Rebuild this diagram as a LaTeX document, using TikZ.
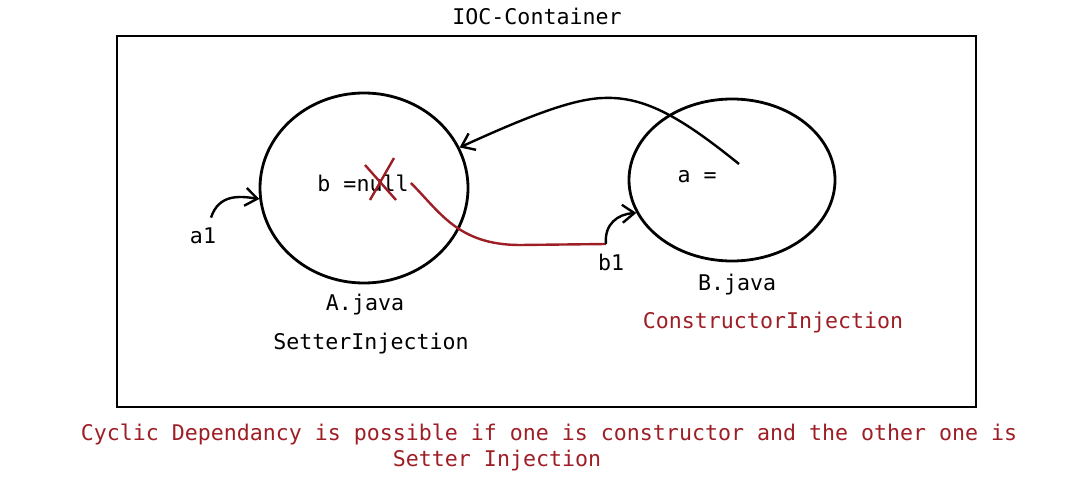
\documentclass[tikz,border=0pt]{standalone}
\usepackage{fontspec}
\setmonofont{DejaVu Sans Mono}
\usepackage{xcolor}
\usetikzlibrary{shapes.geometric,arrows.meta,positioning,calc}
\definecolor{inkred}{RGB}{158,30,38}

\begin{document}
\begin{tikzpicture}[
  x=0.5pt, y=-0.5pt,
  bean/.style={ellipse, draw, line width=1.4pt, inner sep=0pt},
  txt/.style={font=\ttfamily\fontsize{10.8}{13}\selectfont, inner sep=1pt},
  redtxt/.style={txt, text=inkred},
  arrow/.style={-{Straight Barb[length=6pt,width=9pt]}, line width=1.2pt},
  wire/.style={line width=1.2pt, inkred},
]
  \useasboundingbox (0,0) rectangle (1079,481);

  % Container
  \node[txt] (title) at (537,16) {IOC-Container};
  \draw[line width=1.3pt] (117,36) rectangle (976,407);

  % Beans
  \node[bean, minimum width=104pt, minimum height=95pt] (A) at (364,188) {};
  \node[bean, minimum width=103pt, minimum height=81pt] (B) at (732,180) {};

  \node[txt] (bnull) at (363,183) {b =null};
  \node[txt] (aeq) at (697,177) {a =};
  \coordinate (aref) at (739,164);

  % crossed out value
  \draw[inkred, line width=1.2pt] (365,165) -- (396,200);
  \draw[inkred, line width=1.2pt] (394,158) -- (370,200);

  % Labels
  \node[txt] (ajava) at (365,305) {A.java};
  \node[txt] (asetter) at (371,344) {SetterInjection};
  \node[txt] (bjava) at (737,285) {B.java};
  \node[redtxt] (bctor) at (773,323) {ConstructorInjection};

  % Injected references
  \node[txt] (a1) at (203,236) {a1};
  \draw[arrow] ([xshift=4pt,yshift=4pt]a1.north)
    .. controls +(8,-24) and (240,196) .. (A.186);

  \coordinate (bend) at (606,244);
  \node[txt] (b1) at (611,262) {b1};
  \draw[wire] (bnull.east) .. controls (440,212) and (458,245) .. (520,245) -- (bend);
  \draw[arrow] (bend) .. controls (604,224) and (618,214) .. (B.199);

  \coordinate (top) at (603,98);
  \draw[arrow] (aref) .. controls (682,118) and (645,96) .. (top)
    .. controls (570,99) and (520,120) .. (A.23);

  % Note below
  \node[redtxt] (note1) at (549,434) {Cyclic Dependancy is possible if one is constructor and the other one is};
  \node[redtxt] (note2) at (497,461) {Setter Injection};
\end{tikzpicture}
\end{document}
